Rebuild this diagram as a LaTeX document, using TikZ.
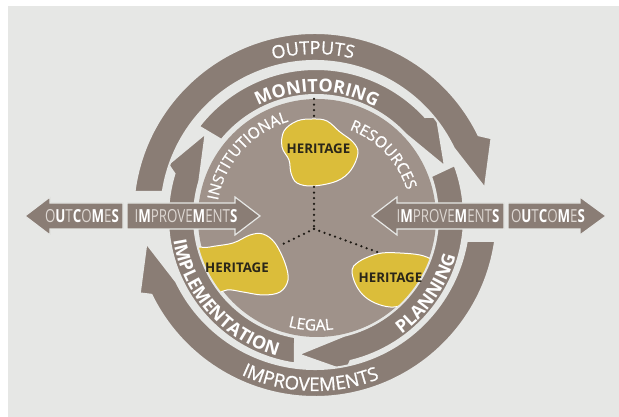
\documentclass[tikz,border=0pt]{standalone}
\usepackage{fontspec}
\setmainfont{Open Sans}
\newfontfamily\osmed[FakeBold=0.9]{Open Sans}
\usetikzlibrary{decorations.text}
\definecolor{bgc}{HTML}{E6E7E5}
\definecolor{band}{HTML}{8A7D75}
\definecolor{disk}{HTML}{9F928A}
\definecolor{yel}{HTML}{DBBD3A}
\definecolor{htxt}{HTML}{2A2619}
\definecolor{dotc}{HTML}{1E1A14}
\definecolor{lt}{HTML}{DDD7D2}
\newcommand\bandfont{\osmed\fontsize{18}{20}\selectfont\color{white}}
\newcommand\bandfontb{\osmed\fontsize{18.6}{20}\selectfont\color{white}}
\newcommand\bandbold{\fontsize{18}{20}\selectfont\bfseries\color{white}}
\newcommand\diskfont{\osmed\fontsize{15.5}{18}\selectfont\color{white}}
\newcommand\hfont{\fontsize{18}{20}\selectfont}
\newcommand\lw[1]{\textcolor{lt}{#1}}
\newcommand\bw[1]{\textcolor{white}{\bfseries #1}}
\newcommand\outc{\scalebox{0.74}[1]{\hfont\lw{O}\bw{U}\lw{T}\bw{C}\lw{O}\bw{M}\lw{E}\bw{S}}}
\newcommand\impr{\scalebox{0.74}[1]{\hfont\lw{I}\bw{M}\lw{PROVE}\bw{M}\lw{ENT}\bw{S}}}
\tikzset{
  bandshape/.style={fill=band, draw=bgc, line width=2pt},
  harrow/.style={fill=band, draw=bgc, line width=1.2pt},
  blob/.style={fill=yel, draw=white, line width=1pt},
  dots/.style={dotc, line width=2.5pt, line cap=round, dash pattern=on 0pt off 5.6pt},
  heri/.style={font=\fontsize{13.3}{15}\selectfont\bfseries, text=htxt, inner sep=0pt},
  htext/.style={inner sep=0pt}
}
\begin{document}
\begin{tikzpicture}[x=1pt,y=1pt]
\useasboundingbox (0,0) rectangle (619,417);
\fill[white] (0,0) rectangle (619,417);
\fill[bgc] (8,0) rectangle (619,411);

% inner disk
\fill[disk] (317,199) circle (119);

% heritage blobs
\draw[blob] plot[smooth cycle, tension=0.6] coordinates {(313,298) (327,296) (340,285) (353,275) (358,264) (351,247) (337,236) (313,231) (297,234) (291,244) (289,257) (282,270) (284,286) (297,296)};
\draw[blob] plot[smooth cycle, tension=0.6] coordinates {(190,165) (210,170) (233,174) (250,182) (263,183) (275,174) (285,154) (288,137) (280,125) (263,122) (243,125) (227,127) (210,121) (192,124)};
\draw[blob] plot[smooth cycle, tension=0.6] coordinates {(352,147) (357,154) (368,160) (382,164) (400,164) (420,162) (432,157) (442,147) (438,128) (417,119) (403,112) (390,110) (375,114) (363,122) (355,134)};

% dotted connectors
\coordinate (dtop) at (314,318);
\coordinate (h1t) at (314,299);
\coordinate (h1b) at (314,230);
\coordinate (J) at (314,188);
\coordinate (h2t) at (279,171);
\coordinate (h3t) at (380,164);
\draw[dots] (dtop) -- (h1t);
\draw[dots] (h1b) -- (J);
\draw[dots] (J) -- (h2t);
\draw[dots] (J) -- (h3t);

% middle ring
\begin{scope}[shift={(316,200)}]
\draw[bandshape] (142.3:148) arc[start angle=142.3,end angle=42.5,radius=148] -- (39.7:157) -- (21.3:138.5) -- (42.7:122) arc[start angle=42.7,end angle=140.8,radius=122] -- cycle;
\draw[bandshape] (20.5:148) arc[start angle=20.5,end angle=-76.5,radius=148] -- (-79:157) -- (-97.3:138.5) -- (-76.6:122) arc[start angle=-76.6,end angle=19.5,radius=122] -- cycle;
\draw[bandshape] (261.8:148) arc[start angle=261.8,end angle=163,radius=148] -- (160.4:157) -- (142.8:138.5) -- (163:122) arc[start angle=163,end angle=260.1,radius=122] -- cycle;
\end{scope}

% outer ring
\begin{scope}[shift={(315,202)}]
\draw[bandshape] (172.7:182) arc[start angle=172.7,end angle=26,radius=182] -- (23.5:192.5) -- (9:172) -- (25.7:154) arc[start angle=25.7,end angle=171.4,radius=154] -- cycle;
\draw[bandshape] (-8.2:182) arc[start angle=-8.2,end angle=-154,radius=182] -- (-155.9:192) -- (-170.5:171) -- (-154.3:154) arc[start angle=-154.3,end angle=-9.7,radius=154] -- cycle;
\end{scope}

% horizontal arrows
\draw[harrow] (25,201) -- (50,220) -- (50,214) -- (123,214) -- (123,188) -- (50,188) -- (50,182) -- cycle;
\draw[harrow] (127,214) -- (235,214) -- (235,220) -- (260,201) -- (235,182) -- (235,188) -- (127,188) -- cycle;
\draw[harrow] (372,201) -- (397,220) -- (397,214) -- (504,214) -- (504,188) -- (397,188) -- (397,182) -- cycle;
\draw[harrow] (508,214) -- (580,214) -- (580,220) -- (606,201) -- (580,182) -- (580,188) -- (508,188) -- cycle;

\node[htext] (oL) at (82,201) {\outc};
\node[htext] (iL) at (186,201) {\impr};
\node[htext] (iR) at (448,201) {\impr};
\node[htext] (oR) at (548,201) {\outc};

% heritage labels
\node[heri] (h1) at (318.5,268) {HERITAGE};
\node[heri] (h2) at (237,149) {HERITAGE};
\node[heri] (h3) at (390.5,139) {HERITAGE};

% curved texts: outer ring
\begin{scope}[shift={(315,202)}]
\path[decorate, decoration={text along path, text align=center, text={|\bandfont|OUTPUTS}}] (135.7:161) arc[start angle=135.7,end angle=45.7,radius=161];
\path[decorate, decoration={text along path, text align=center, text={|\bandfontb|IMPROVEMENTS}}] (223.4:176) arc[start angle=223.4,end angle=313.4,radius=176];
\end{scope}
% middle ring
\begin{scope}[shift={(316,200)}]
\path[decorate, decoration={text along path, text align=center, text={|\bandbold|MONITORING}}] (149.6:125) arc[start angle=149.6,end angle=29.6,radius=125];
\path[decorate, decoration={text along path, text align=center, text={|\bandbold|IMPLEMENTATION}}] (161.8:144.5) arc[start angle=161.8,end angle=281.8,radius=144.5];
\path[decorate, decoration={text along path, text align=center, text={|\bandbold|PLANNING}}] (-94.75:145) arc[start angle=-94.75,end angle=25.25,radius=145];
\end{scope}
% disk
\begin{scope}[shift={(317,199)}]
\path[decorate, decoration={text along path, text align=center, text={|\diskfont|INSTITUTIONAL}}] (198.2:100.5) arc[start angle=198.2,end angle=78.2,radius=100.5];
\path[decorate, decoration={text along path, text align=center, text={|\diskfont|RESOURCES}}] (103.5:94) arc[start angle=103.5,end angle=-16.5,radius=94];
\path[decorate, decoration={text along path, text align=center, text={|\diskfont|LEGAL}}] (236.8:112.5) arc[start angle=236.8,end angle=296.8,radius=112.5];
\end{scope}
\end{tikzpicture}
\end{document}
